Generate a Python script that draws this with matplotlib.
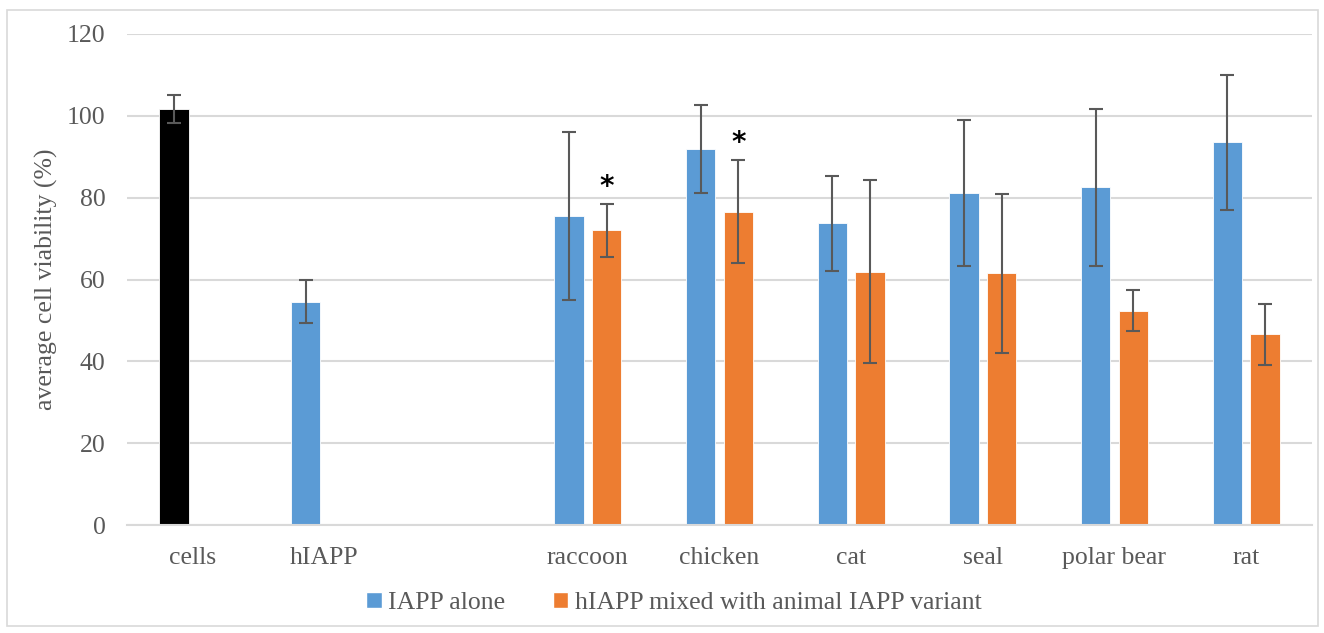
import numpy as np
import matplotlib
matplotlib.use("Agg")
import matplotlib.pyplot as plt
from matplotlib.patches import Rectangle, Patch

categories = ["cells", "hIAPP", "", "raccoon", "chicken", "cat", "seal", "polar bear", "rat"]
alone = [101.6, 54.6, np.nan, 75.5, 91.9, 73.7, 81.2, 82.5, 93.5]
alone_err = [3.4, 5.2, np.nan, 20.5, 10.8, 11.7, 17.9, 19.2, 16.6]
mixed = [np.nan, np.nan, np.nan, 72.0, 76.6, 61.9, 61.5, 52.4, 46.6]
mixed_err = [np.nan, np.nan, np.nan, 6.4, 12.5, 22.3, 19.4, 5.0, 7.5]
significant = [False, False, False, True, True, False, False, False, False]
series_names = ["IAPP alone", "hIAPP mixed with animal IAPP variant"]
yticks = [0, 20, 40, 60, 80, 100, 120]

BLUE = "#5B9BD5"
ORANGE = "#ED7D31"
GRID = "#D9D9D9"
TXT = "#595959"
ERR = "#595959"

plt.rcParams['font.family'] = ['Liberation Serif', 'DejaVu Serif']

fig = plt.figure(figsize=(13.24, 6.33), dpi=100)
ax = fig.add_axes([127/1324, 1-525/633, (1312-127)/1324, (525-34)/633])

x = np.arange(len(categories))
w = 0.224
off = 0.143
alone_colors = ["black"] + [BLUE] * (len(categories) - 1)

ax.bar(x - off, alone, w, color=alone_colors, edgecolor="white", linewidth=0.6, zorder=2)
ax.bar(x + off, mixed, w, color=ORANGE, edgecolor="white", linewidth=0.6, zorder=2)
ax.errorbar(x - off, alone, yerr=alone_err, fmt="none", ecolor=ERR, elinewidth=1.5,
            capsize=5, capthick=1.5, zorder=3)
ax.errorbar(x + off, mixed, yerr=mixed_err, fmt="none", ecolor=ERR, elinewidth=1.5,
            capsize=5, capthick=1.5, zorder=3)

for i, s in enumerate(significant):
    if s:
        ax.text(x[i] + off, mixed[i] + mixed_err[i] + 4.2, "*", ha="center", va="center",
                fontsize=20, fontweight="bold", color="black", family="DejaVu Sans")

ax.set_xlim(-0.5, len(categories) - 0.5)
ax.set_ylim(0, 120)
ax.set_yticks(yticks)
ax.set_xticks(x)
ax.set_xticklabels(categories)
ax.grid(axis="y", color=GRID, linewidth=1.5, zorder=0)
ax.set_axisbelow(True)
for sp in ["top", "right", "left"]:
    ax.spines[sp].set_visible(False)
ax.spines["bottom"].set_color(GRID)
ax.spines["bottom"].set_linewidth(1.5)
ax.tick_params(axis="both", length=0, labelsize=18.5, colors=TXT)
ax.tick_params(axis="y", pad=15.5)
ax.tick_params(axis="x", pad=16)

ax.set_ylabel("average cell viability (%)", fontsize=18.5, color=TXT)
ax.yaxis.set_label_coords((58 - 127) / 1185, 0.5)

handles = [Patch(facecolor=BLUE, edgecolor="white"), Patch(facecolor=ORANGE, edgecolor="white")]
leg = fig.legend(handles, series_names, loc="center", bbox_to_anchor=(0.509, 1 - 603/633),
                 ncol=2, frameon=False, fontsize=18.5, handlelength=0.6, handleheight=0.6,
                 handletextpad=0.25, columnspacing=1.85, labelcolor=TXT)

fig.patches.append(Rectangle((7/1324, 1-626/633), (1318-7)/1324, (626-10)/633,
                             transform=fig.transFigure, fill=False, edgecolor=GRID,
                             linewidth=1.2))

fig.savefig("out.png", dpi=100)
